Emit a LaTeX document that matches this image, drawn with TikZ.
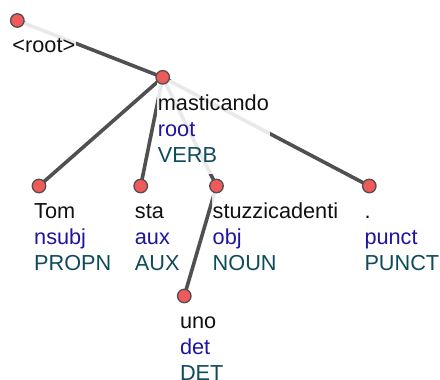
\documentclass[tikz,border=0pt]{standalone}
\usepackage{fontspec}
\setmainfont{Liberation Sans}
\definecolor{edgec}{RGB}{80,80,80}
\definecolor{dotc}{RGB}{240,90,90}
\definecolor{depc}{RGB}{30,20,160}
\definecolor{posc}{RGB}{15,75,90}
\definecolor{wordc}{RGB}{17,17,17}
\tikzset{
  edge/.style={draw=edgec, line width=3.6pt},
  tok/.style={circle, draw=edgec, line width=1.3pt, fill=dotc, minimum size=13.5pt, inner sep=0pt},
  lab/.style={anchor=north west, align=left, fill=white, fill opacity=0.88, text opacity=1,
    inner xsep=1pt, inner ysep=12pt, text=wordc,
    font=\fontsize{21.7}{26}\selectfont},
}
\newcommand{\tlab}[3]{\strut #1\\\textcolor{depc}{#2}\\\textcolor{posc}{#3}}
\begin{document}
\begin{tikzpicture}[x=1pt,y=-1pt]
\useasboundingbox (0,0) rectangle (440,380);
% token positions
\coordinate (pr) at (17.3,20.5);
\coordinate (p1) at (39,186);
\coordinate (p2) at (140.7,186);
\coordinate (p3) at (162.7,77.3);
\coordinate (p4) at (184.3,296);
\coordinate (p5) at (216.5,186);
\coordinate (p6) at (369.3,186);
% edges
\draw[edge] (pr) -- (p3);
\draw[edge] (p3) -- (p1);
\draw[edge] (p3) -- (p2);
\draw[edge] (p3) -- (p5);
\draw[edge] (p3) -- (p6);
\draw[edge] (p5) -- (p4);
% labels
\node[lab] (lr) at ([xshift=-6pt,yshift=-1.5pt]pr) {\strut <root>};
\node[lab] (l1) at ([xshift=-6pt,yshift=-2.3pt]p1) {\tlab{Tom}{nsubj}{PROPN}};
\node[lab] (l2) at ([xshift=-7pt,yshift=-2.3pt]p2) {\tlab{sta}{aux}{AUX}};
\node[lab] (l3) at ([xshift=-6pt,yshift=-2.3pt]p3) {\tlab{masticando}{root}{VERB}};
\node[lab] (l4) at ([xshift=-5.5pt,yshift=-2.3pt]p4) {\tlab{uno}{det}{DET}};
\node[lab] (l5) at ([xshift=-5pt,yshift=-2.3pt]p5) {\tlab{stuzzicadenti}{obj}{NOUN}};
\node[lab] (l6) at ([xshift=-6pt,yshift=-2.3pt]p6) {\tlab{.}{punct}{PUNCT}};
% token dots
\foreach \p in {pr,p1,p2,p3,p4,p5,p6} \node[tok] (d\p) at (\p) {};
\end{tikzpicture}
\end{document}
